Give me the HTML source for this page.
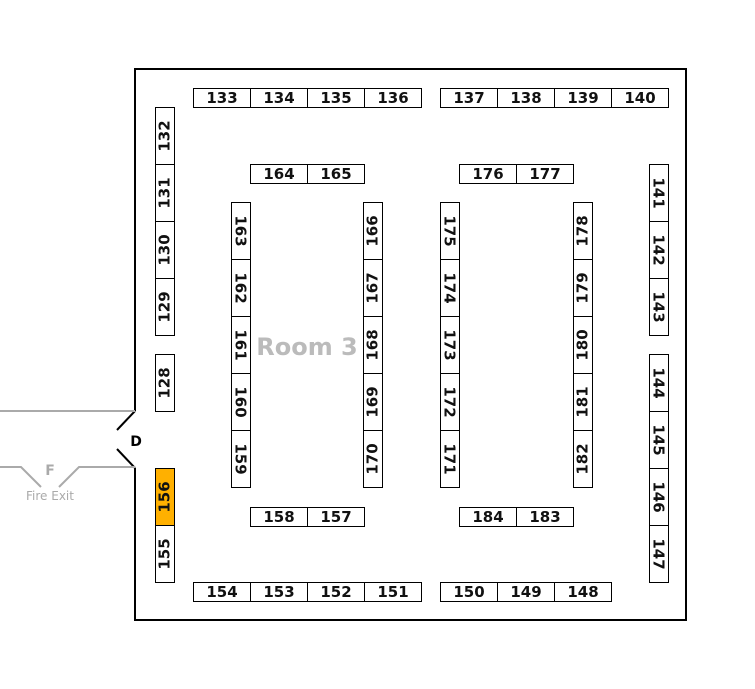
<!DOCTYPE html>
<html><head><meta charset="utf-8"><style>
body{margin:0;width:755px;height:689px;background:#fff;position:relative;overflow:hidden;font-family:"DejaVu Sans","Liberation Sans",sans-serif}
.b{position:absolute;border:1px solid #000;box-sizing:border-box;background:#fff;display:flex;align-items:center;justify-content:center;font-weight:bold;font-size:15px;color:#111}
.h{width:58px;height:20px}
.v{width:20px;height:58px}
.v span{display:block;white-space:nowrap}
.cw span{transform:rotate(90deg)}
.ccw span{transform:rotate(-90deg)}
</style></head><body>
<svg width="755" height="689" style="position:absolute;left:0;top:0">
<path d="M135 411 V69 H686 V620 H135 V468" fill="none" stroke="#000" stroke-width="2"/>
<line x1="135" y1="411" x2="117" y2="430" stroke="#000" stroke-width="2"/>
<line x1="117" y1="449" x2="135" y2="468" stroke="#000" stroke-width="2"/>
<line x1="0" y1="411" x2="135" y2="411" stroke="#aaa" stroke-width="2"/>
<polyline points="0,467 21,467 41,487" fill="none" stroke="#aaa" stroke-width="2"/>
<polyline points="59,487 79,467 135,467" fill="none" stroke="#aaa" stroke-width="2"/>
<text x="136" y="446" text-anchor="middle" font-family="DejaVu Sans,sans-serif" font-weight="bold" font-size="14">D</text>
<text x="50" y="475" text-anchor="middle" font-family="DejaVu Sans,sans-serif" font-weight="bold" font-size="14" fill="#aaa">F</text>
<text x="50" y="500" text-anchor="middle" font-family="DejaVu Sans,sans-serif" font-size="12" fill="#aaa">Fire Exit</text>
<text x="307" y="355" text-anchor="middle" font-family="DejaVu Sans,sans-serif" font-weight="bold" font-size="24" fill="#bbb">Room 3</text>
</svg>

<div class="b h" style="left:193px;top:88px">133</div>
<div class="b h" style="left:250px;top:88px">134</div>
<div class="b h" style="left:307px;top:88px">135</div>
<div class="b h" style="left:364px;top:88px">136</div>
<div class="b h" style="left:440px;top:88px">137</div>
<div class="b h" style="left:497px;top:88px">138</div>
<div class="b h" style="left:554px;top:88px">139</div>
<div class="b h" style="left:611px;top:88px">140</div>

<div class="b h" style="left:250px;top:164px">164</div>
<div class="b h" style="left:307px;top:164px">165</div>
<div class="b h" style="left:459px;top:164px">176</div>
<div class="b h" style="left:516px;top:164px">177</div>

<div class="b h" style="left:250px;top:507px">158</div>
<div class="b h" style="left:307px;top:507px">157</div>
<div class="b h" style="left:459px;top:507px">184</div>
<div class="b h" style="left:516px;top:507px">183</div>

<div class="b h" style="left:193px;top:582px">154</div>
<div class="b h" style="left:250px;top:582px">153</div>
<div class="b h" style="left:307px;top:582px">152</div>
<div class="b h" style="left:364px;top:582px">151</div>
<div class="b h" style="left:440px;top:582px">150</div>
<div class="b h" style="left:497px;top:582px">149</div>
<div class="b h" style="left:554px;top:582px">148</div>

<div class="b v ccw" style="left:155px;top:107px"><span>132</span></div>
<div class="b v ccw" style="left:155px;top:164px"><span>131</span></div>
<div class="b v ccw" style="left:155px;top:221px"><span>130</span></div>
<div class="b v ccw" style="left:155px;top:278px"><span>129</span></div>
<div class="b v ccw" style="left:155px;top:354px"><span>128</span></div>
<div class="b v ccw" style="left:155px;top:468px;background:#ffb000"><span>156</span></div>
<div class="b v ccw" style="left:155px;top:525px"><span>155</span></div>

<div class="b v cw" style="left:231px;top:202px"><span>163</span></div>
<div class="b v cw" style="left:231px;top:259px"><span>162</span></div>
<div class="b v cw" style="left:231px;top:316px"><span>161</span></div>
<div class="b v cw" style="left:231px;top:373px"><span>160</span></div>
<div class="b v cw" style="left:231px;top:430px"><span>159</span></div>

<div class="b v ccw" style="left:363px;top:202px"><span>166</span></div>
<div class="b v ccw" style="left:363px;top:259px"><span>167</span></div>
<div class="b v ccw" style="left:363px;top:316px"><span>168</span></div>
<div class="b v ccw" style="left:363px;top:373px"><span>169</span></div>
<div class="b v ccw" style="left:363px;top:430px"><span>170</span></div>

<div class="b v cw" style="left:440px;top:202px"><span>175</span></div>
<div class="b v cw" style="left:440px;top:259px"><span>174</span></div>
<div class="b v cw" style="left:440px;top:316px"><span>173</span></div>
<div class="b v cw" style="left:440px;top:373px"><span>172</span></div>
<div class="b v cw" style="left:440px;top:430px"><span>171</span></div>

<div class="b v ccw" style="left:573px;top:202px"><span>178</span></div>
<div class="b v ccw" style="left:573px;top:259px"><span>179</span></div>
<div class="b v ccw" style="left:573px;top:316px"><span>180</span></div>
<div class="b v ccw" style="left:573px;top:373px"><span>181</span></div>
<div class="b v ccw" style="left:573px;top:430px"><span>182</span></div>

<div class="b v cw" style="left:649px;top:164px"><span>141</span></div>
<div class="b v cw" style="left:649px;top:221px"><span>142</span></div>
<div class="b v cw" style="left:649px;top:278px"><span>143</span></div>
<div class="b v cw" style="left:649px;top:354px"><span>144</span></div>
<div class="b v cw" style="left:649px;top:411px"><span>145</span></div>
<div class="b v cw" style="left:649px;top:468px"><span>146</span></div>
<div class="b v cw" style="left:649px;top:525px"><span>147</span></div>
</body></html>
